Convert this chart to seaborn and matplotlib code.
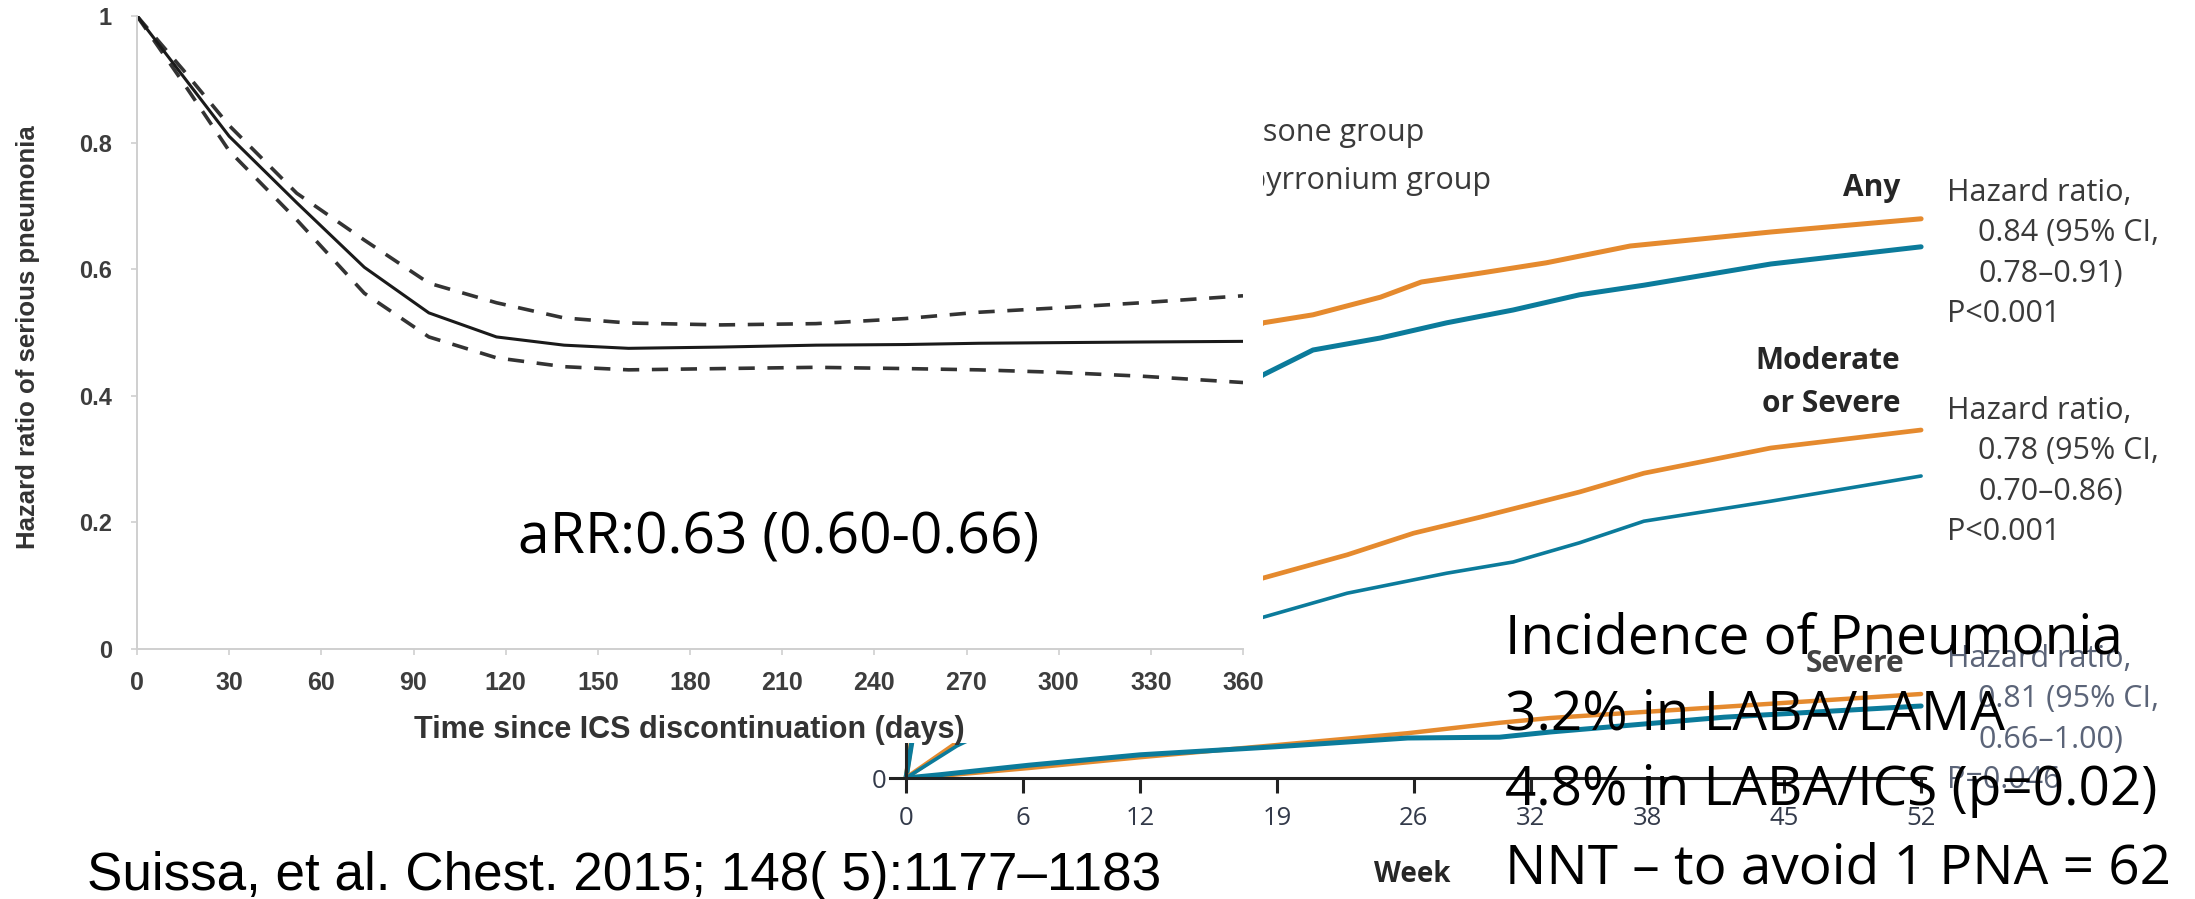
import matplotlib
matplotlib.use("Agg")
import matplotlib.pyplot as plt
import matplotlib.transforms as mtransforms
from matplotlib.patches import Rectangle
import seaborn as sns

# Left panel: hazard ratio of serious pneumonia after ICS stop
days = [0, 15, 30, 52, 74, 95, 117, 139, 160, 190, 221, 250, 274, 300, 327, 360]
hr_est = [1.0, 0.905, 0.81, 0.705, 0.603, 0.531, 0.493, 0.48, 0.475, 0.477, 0.48, 0.481, 0.483, 0.484, 0.485, 0.486]
hr_upper = [1.0, 0.915, 0.827, 0.72, 0.646, 0.578, 0.547, 0.523, 0.515, 0.512, 0.514, 0.522, 0.532, 0.539, 0.547, 0.558]
hr_lower = [1.0, 0.895, 0.787, 0.678, 0.562, 0.493, 0.46, 0.446, 0.441, 0.443, 0.445, 0.443, 0.441, 0.437, 0.431, 0.421]
day_ticks = list(range(0, 361, 30))
hr_ticks = [0, 0.2, 0.4, 0.6, 0.8, 1.0]
hr_tick_labels = ["0", "0.2", "0.4", "0.6", "0.8", "1"]

# Right panel: cumulative incidence (%) by week, two groups x three endpoints
any_sf_wk = [0, 0.3, 4, 8, 12, 15, 18.3, 20.85, 24.3, 26.4, 29.4, 32.8, 37.1, 44.3, 52]
any_sf_pct = [0, 5, 22, 36, 45, 51, 56.9, 57.9, 60.1, 62.0, 63.1, 64.4, 66.5, 68.25, 69.9]
any_ig_wk = [0, 0.3, 4, 8, 12, 15, 18.3, 20.85, 24.3, 27.7, 31.1, 34.5, 37.8, 44.3, 52]
any_ig_pct = [0, 4.5, 18, 30, 39, 45, 50.4, 53.5, 55.0, 56.9, 58.5, 60.4, 61.6, 64.25, 66.4]
mod_sf_wk = [0, 2.6, 6, 10, 14, 18.3, 22.6, 26.0, 29.4, 34.5, 37.8, 44.3, 52]
mod_sf_pct = [0, 4.4, 10, 16, 21, 25.0, 27.9, 30.6, 32.6, 35.75, 38.1, 41.25, 43.5]
mod_ig_wk = [0, 2.6, 6, 10, 14, 18.3, 22.6, 27.7, 31.1, 34.5, 37.8, 44.3, 52]
mod_ig_pct = [0, 4.0, 8, 12.5, 16.5, 20.1, 23.1, 25.6, 27.0, 29.4, 32.1, 34.6, 37.75]
sev_wk = [0, 1.7, 6.3, 12, 18.9, 25.7, 30.4, 33, 41.9, 52]
sev_sf_pct = [0, 0.25, 1.25, 2.6, 4.1, 5.6, 6.9, 7.5, 8.9, 10.5]
sev_ig_pct = [0, 0.4, 1.6, 2.9, 3.9, 5.0, 5.1, 5.75, 7.6, 9.0]
week_ticks = [0, 6, 12, 19, 26, 32, 38, 45, 52]

group_labels = ["Salmeterol\u2013fluticasone group", "Indacaterol\u2013glycopyrronium group"]
hr_blocks = [
    ["Hazard ratio,", "0.84 (95% CI,", "0.78\u20130.91)", "P<0.001"],
    ["Hazard ratio,", "0.78 (95% CI,", "0.70\u20130.86)", "P<0.001"],
    ["Hazard ratio,", "0.81 (95% CI,", "0.66\u20131.00)", "P=0.046"],
]
slide_lines = ["Incidence of Pneumonia", "3.2% in LABA/LAMA",
               "4.8% in LABA/ICS (p=0.02)", "NNT \u2013 to avoid 1 PNA = 62"]

ORANGE = "#E58A2E"
TEAL = "#0B7B9B"
ARIAL = ["Liberation Sans", "DejaVu Sans"]

sns.set_style("white")
plt.rcParams["font.family"] = ["Open Sans", "DejaVu Sans"]

W, H = 2195, 899
fig = plt.figure(figsize=(W / 100, H / 100), dpi=100)
fig.patch.set_facecolor("white")
# pixel coords, origin top-left
px = mtransforms.Affine2D().scale(1 / W, -1 / H).translate(0, 1) + fig.transFigure

# ---------- right panel (NEJM-style curves), sits underneath ----------
ax_r = fig.add_axes([890 / W, (H - 778) / H, (1925 - 890) / W, (778 - 58) / H])
ax_r.set_zorder(0)
ax_r.patch.set_alpha(0)
sns.lineplot(x=any_sf_wk, y=any_sf_pct, color=ORANGE, lw=3.6, ax=ax_r)
sns.lineplot(x=any_ig_wk, y=any_ig_pct, color=TEAL, lw=3.6, ax=ax_r)
sns.lineplot(x=mod_sf_wk, y=mod_sf_pct, color=ORANGE, lw=3.4, ax=ax_r)
sns.lineplot(x=mod_ig_wk, y=mod_ig_pct, color=TEAL, lw=2.6, ax=ax_r)
sns.lineplot(x=sev_wk, y=sev_sf_pct, color=ORANGE, lw=3.2, ax=ax_r)
sns.lineplot(x=sev_wk, y=sev_ig_pct, color=TEAL, lw=3.6, ax=ax_r)
ax_r.set_xlim(-0.82, 52.2)
ax_r.set_ylim(0, 90)
for s in ["top", "right"]:
    ax_r.spines[s].set_visible(False)
ax_r.spines["left"].set_position(("data", 0))
for s in ["left", "bottom"]:
    ax_r.spines[s].set_color("#222222")
    ax_r.spines[s].set_linewidth(2.2)
ax_r.set_xticks(week_ticks)
ax_r.set_xticklabels([str(w) for w in week_ticks])
ax_r.set_yticks([0])
ax_r.set_yticklabels(["0"])
ax_r.tick_params(axis="x", length=11, width=2.2, color="#222222", pad=9,
                 labelsize=18.5, labelcolor="#333a4a", bottom=True)
ax_r.tick_params(axis="y", length=0, pad=14, labelsize=18.5, labelcolor="#333a4a", left=True)
ax_r.set_xlabel("")
ax_r.set_ylabel("")
ax_r.grid(False)

# legend texts, partly hidden by the left picture
ax_r.text(1424, 141, group_labels[0], transform=px, ha="right", va="baseline",
          fontsize=22, color="#3a3a3a", clip_on=False)
ax_r.text(1491, 189, group_labels[1], transform=px, ha="right", va="baseline",
          fontsize=22, color="#3a3a3a", clip_on=False)

# endpoint labels and hazard ratios
fig.text(1900, 196, "Any", transform=px, ha="right", va="baseline",
         fontsize=21.5, fontweight="bold", color="#262626")
fig.text(1900, 369, "Moderate", transform=px, ha="right", va="baseline",
         fontsize=21.5, fontweight="bold", color="#262626")
fig.text(1900, 412, "or Severe", transform=px, ha="right", va="baseline",
         fontsize=21.5, fontweight="bold", color="#262626")
fig.text(1904, 672, "Severe", transform=px, ha="right", va="baseline",
         fontsize=21.5, fontweight="bold", color="#444444", zorder=2)
block_tops = [201, 419, 667]
block_cols = ["#3a3a3a", "#3a3a3a", "#5b6478"]
for top, lines, col in zip(block_tops, hr_blocks, block_cols):
    for i, line in enumerate(lines):
        x = 1978 if i in (1, 2) else 1947
        fig.text(x, top + i * 40.5, line, transform=px, ha="left", va="baseline",
                 fontsize=22, color=col, zorder=2)

fig.text(1412, 882, "Week", transform=px, ha="center", va="baseline",
         fontsize=20, fontweight="bold", color="#262626")

# ---------- white backing of the left picture ----------
fig.add_artist(Rectangle((0, 1 - 743 / H), 1263 / W, 743 / H,
                         transform=fig.transFigure, facecolor="white",
                         edgecolor="none", zorder=0.5))

# ---------- left panel (hazard ratio curve) ----------
ax_l = fig.add_axes([137 / W, (H - 649) / H, 1106 / W, 633 / H])
ax_l.set_zorder(1)
ax_l.patch.set_alpha(0)
sns.lineplot(x=days, y=hr_upper, color="#333333", lw=2.6, linestyle=(0, (4.5, 3.5)), ax=ax_l)
sns.lineplot(x=days, y=hr_lower, color="#333333", lw=2.6, linestyle=(0, (4.5, 3.5)), ax=ax_l)
sns.lineplot(x=days, y=hr_est, color="#1a1a1a", lw=2.2, ax=ax_l)
ax_l.set_xlim(0, 360)
ax_l.set_ylim(0, 1)
for s in ["top", "right"]:
    ax_l.spines[s].set_visible(False)
for s in ["left", "bottom"]:
    ax_l.spines[s].set_color("#cfcfcf")
    ax_l.spines[s].set_linewidth(1.4)
ax_l.set_xticks(day_ticks)
ax_l.set_xticklabels([str(d) for d in day_ticks])
ax_l.set_yticks(hr_ticks)
ax_l.set_yticklabels(hr_tick_labels)
ax_l.tick_params(axis="x", length=4, width=1.2, color="#cfcfcf", pad=12,
                 bottom=True, labelsize=18, labelcolor="#3d3d3d")
ax_l.tick_params(axis="y", length=4, width=1.2, color="#cfcfcf", pad=14,
                 left=True, labelsize=17, labelcolor="#3d3d3d")
for lab in ax_l.get_xticklabels() + ax_l.get_yticklabels():
    lab.set_family(ARIAL)
    lab.set_fontweight("bold")
ax_l.set_xlabel("Time since ICS discontinuation (days)", fontsize=22,
                fontweight="bold", color="#333333", family=ARIAL, va="center")
ax_l.xaxis.set_label_coords(0.499, -0.128)
ax_l.set_ylabel("Hazard ratio of serious pneumonia", fontsize=18.5,
                fontweight="bold", color="#333333", family=ARIAL, va="center")
ax_l.yaxis.set_label_coords(-0.0986, 0.493)
ax_l.grid(False)

# ---------- slide annotations ----------
fig.text(518, 553, "aRR:0.63 (0.60-0.66)", transform=px, ha="left", va="baseline",
         fontsize=41, color="black", zorder=5)
for i, line in enumerate(slide_lines):
    fig.text(1505, [653, 730, 805, 883][i], line, transform=px, ha="left",
             va="baseline", fontsize=39.5, color="black", zorder=5)
fig.text(87, 890, "Suissa, et al. Chest. 2015; 148( 5):1177\u20131183", transform=px,
         ha="left", va="baseline", fontsize=38.2, color="black",
         family=ARIAL, zorder=5)

fig.savefig("out.png", dpi=100, facecolor="white")
